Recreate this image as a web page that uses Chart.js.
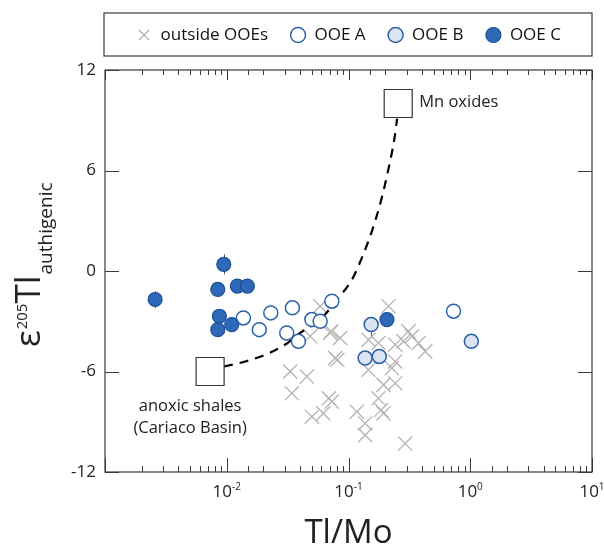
<!DOCTYPE html>
<html>
<head>
<meta charset="utf-8">
<script src="https://cdn.jsdelivr.net/npm/chart.js@4.4.1/dist/chart.umd.min.js"></script>
<style>
  html, body { margin: 0; padding: 0; background: #fff; }
</style>
</head>
<body>
<canvas id="tlChart" width="604" height="547"></canvas>
<script>
// samples outside the OOEs (grey crosses)
const outsideX = [0.0585, 0.0484, 0.0707, 0.072, 0.0854, 0.0777, 0.081, 0.0332, 0.0455, 0.0342, 0.073, 0.069, 0.0622, 0.05,
  0.117, 0.137, 0.137, 0.213, 0.146, 0.176, 0.242, 0.283, 0.311, 0.332, 0.376, 0.427, 0.146, 0.242, 0.227, 0.194, 0.242,
  0.176, 0.194, 0.185, 0.292];
const outsideY = [-2.1, -3.9, -3.7, -3.6, -4.0, -5.2, -5.3, -6.0, -6.3, -7.3, -7.8, -7.6, -8.5, -8.7,
  -8.4, -9.1, -9.8, -2.1, -4.1, -4.3, -4.4, -4.2, -3.6, -3.9, -4.3, -4.8, -5.9, -5.4, -5.8, -6.8, -6.7,
  -7.6, -8.5, -8.3, -10.3];

const ooeAX = [0.0137, 0.0185, 0.023, 0.0346, 0.0311, 0.0388, 0.05, 0.0585, 0.073, 0.729];
const ooeAY = [-2.8, -3.5, -2.5, -2.2, -3.7, -4.2, -2.9, -3.0, -1.8, -2.4];

const ooeBX = [0.1535, 0.137, 0.179, 1.02];
const ooeBY = [-3.2, -5.2, -5.1, -4.2];
const ooeBErr = [[0.8, 0], null, null, null];

const ooeCX = [0.00258, 0.00945, 0.00844, 0.01223, 0.01477, 0.0087, 0.00844, 0.011, 0.207];
const ooeCY = [-1.7, 0.4, -1.1, -0.9, -0.9, -2.7, -3.5, -3.2, -2.9];
const ooeCErr = [[0.5, 0.5], [0.6, 0.6], null, null, null, null, null, null, null];

// end members and the mixing line between them
const endX = [0.0073, 0.256];
const endY = [-6, 10];
const endLabels = [['anoxic shales', '(Cariaco Basin)'], ['Mn oxides']];

const mixX = [0.0095, 0.0142, 0.0207, 0.0301, 0.0401, 0.0585, 0.0807, 0.107, 0.129, 0.156, 0.185, 0.216, 0.237, 0.251];
const mixY = [-5.7, -5.4, -5.0, -4.4, -3.7, -2.9, -1.7, -0.5, 0.8, 2.4, 4.2, 6.3, 7.8, 9.1];

const xTickValues = [0.01, 0.1, 1, 10];
const xTickExps = ['-2', '-1', '0', '1'];
const yTickValues = [-12, -6, 0, 6, 12];

const FONT = "'Open Sans', 'DejaVu Sans', sans-serif";
const INK = '#222';
const AXIS = '#3a3a3a';

function pts(xs, ys) {
    return xs.map((x, i) => ({ x: x, y: ys[i] }));
}

function isDecade(v) {
    const e = Math.log10(v);
    return Math.abs(e - Math.round(e)) < 1e-6;
}

const errorBars = {
    id: 'errorBars',
    beforeDatasetsDraw(chart) {
        const { ctx, scales: { x, y } } = chart;
        ctx.save();
        ctx.strokeStyle = '#555';
        ctx.lineWidth = 1;
        chart.data.datasets.forEach(ds => {
            if (!ds.yErr) return;
            ds.data.forEach((p, i) => {
                const e = ds.yErr[i];
                if (!e) return;
                const px = Math.round(x.getPixelForValue(p.x)) + 0.5;
                ctx.beginPath();
                ctx.moveTo(px, y.getPixelForValue(p.y - e[0]));
                ctx.lineTo(px, y.getPixelForValue(p.y + e[1]));
                ctx.stroke();
            });
        });
        ctx.restore();
    }
};

const frameAndLabels = {
    id: 'frameAndLabels',
    afterDraw(chart) {
        const { ctx, chartArea: a, scales: { x, y } } = chart;
        ctx.save();

        // plot frame + inward ticks
        ctx.strokeStyle = AXIS;
        ctx.lineWidth = 1.2;
        ctx.strokeRect(a.left, a.top, a.right - a.left, a.bottom - a.top);
        ctx.lineWidth = 1;
        ctx.beginPath();
        x.ticks.forEach(t => {
            const px = Math.round(x.getPixelForValue(t.value)) + 0.5;
            const major = isDecade(t.value);
            ctx.moveTo(px, a.bottom);
            ctx.lineTo(px, a.bottom - (major ? 14 : 6));
            ctx.moveTo(px, a.top);
            ctx.lineTo(px, a.top + (major ? 10 : 5));
        });
        y.ticks.forEach(t => {
            const py = Math.round(y.getPixelForValue(t.value)) + 0.5;
            ctx.moveTo(a.left, py);
            ctx.lineTo(a.left + 14, py);
            ctx.moveTo(a.right, py);
            ctx.lineTo(a.right - 14, py);
        });
        ctx.stroke();

        // x tick labels 10^n
        ctx.fillStyle = INK;
        ctx.textBaseline = 'alphabetic';
        ctx.textAlign = 'left';
        xTickValues.forEach((v, i) => {
            const px = x.getPixelForValue(v);
            ctx.font = '17px ' + FONT;
            const wBase = ctx.measureText('10').width;
            ctx.font = '10px ' + FONT;
            const wExp = ctx.measureText(xTickExps[i]).width;
            const left = px - (wBase + wExp) / 2;
            ctx.font = '17px ' + FONT;
            ctx.fillText('10', left, a.bottom + 25);
            ctx.font = '10px ' + FONT;
            ctx.fillText(xTickExps[i], left + wBase, a.bottom + 18);
        });

        // y axis title
        ctx.translate(40, 347);
        ctx.rotate(-Math.PI / 2);
        let cx = 0;
        ctx.font = '35px ' + FONT;
        ctx.fillText('\u03b5', cx, 0);
        cx += ctx.measureText('\u03b5').width + 1;
        ctx.font = '15px ' + FONT;
        ctx.fillText('205', cx, -13);
        cx += ctx.measureText('205').width;
        ctx.font = '35px ' + FONT;
        ctx.fillText('Tl', cx, 0);
        cx += ctx.measureText('Tl').width + 1;
        ctx.font = '19px ' + FONT;
        ctx.fillText('authigenic', cx, 12);
        ctx.restore();

        // legend frame
        const lg = chart.legend;
        ctx.save();
        ctx.strokeStyle = AXIS;
        ctx.lineWidth = 1.2;
        ctx.strokeRect(lg.left - 1, lg.top + 8.5, lg.width + 1, 43);
        ctx.restore();
    },
    afterDatasetsDraw(chart) {
        const { ctx, scales: { x, y } } = chart;
        ctx.save();
        ctx.fillStyle = INK;
        ctx.font = '16.5px ' + FONT;
        ctx.textBaseline = 'middle';
        // anoxic shales: centred below-left of the square
        const ax = x.getPixelForValue(endX[0]);
        const ay = y.getPixelForValue(endY[0]);
        ctx.textAlign = 'center';
        endLabels[0].forEach((s, i) => ctx.fillText(s, ax - 20, ay + 35 + i * 22));
        // Mn oxides: right of the square
        const mx = x.getPixelForValue(endX[1]);
        const my = y.getPixelForValue(endY[1]);
        ctx.textAlign = 'left';
        ctx.fillText(endLabels[1][0], mx + 21, my - 1);
        ctx.restore();
    }
};

Chart.defaults.font.family = FONT;
Chart.defaults.color = INK;

new Chart(document.getElementById('tlChart'), {
    type: 'scatter',
    data: {
        datasets: [
            {
                label: 'outside OOEs',
                data: pts(outsideX, outsideY),
                pointStyle: 'crossRot',
                pointRadius: 10,
                borderColor: '#b3b3b3',
                backgroundColor: '#b3b3b3',
                borderWidth: 1.3,
                order: 5
            },
            {
                label: 'OOE A',
                data: pts(ooeAX, ooeAY),
                pointStyle: 'circle',
                pointRadius: 7,
                borderColor: '#2c63ad',
                backgroundColor: '#ffffff',
                borderWidth: 1.5,
                order: 2
            },
            {
                label: 'OOE B',
                data: pts(ooeBX, ooeBY),
                yErr: ooeBErr,
                pointStyle: 'circle',
                pointRadius: 7,
                borderColor: '#2c5fa8',
                backgroundColor: '#dce3f3',
                borderWidth: 1.5,
                order: 1
            },
            {
                label: 'OOE C',
                data: pts(ooeCX, ooeCY),
                yErr: ooeCErr,
                pointStyle: 'circle',
                pointRadius: 7,
                borderColor: '#1d4f96',
                backgroundColor: '#2e68b9',
                borderWidth: 1.2,
                order: 0
            },
            {
                label: 'end members',
                data: pts(endX, endY),
                pointStyle: 'rect',
                pointRadius: 19.8,
                borderColor: '#333',
                backgroundColor: '#ffffff',
                borderWidth: 1.2,
                order: 3
            },
            {
                label: 'mixing',
                data: pts(mixX, mixY),
                showLine: true,
                pointRadius: 0,
                borderColor: '#000',
                borderWidth: 2.2,
                borderDash: [9, 7],
                cubicInterpolationMode: 'monotone',
                order: 4
            }
        ]
    },
    options: {
        responsive: false,
        animation: false,
        events: [],
        layout: { autoPadding: false, padding: { top: 4.5, right: 12, left: 0, bottom: 0 } },
        plugins: {
            legend: {
                position: 'top',
                fullSize: false,
                labels: {
                    usePointStyle: true,
                    boxWidth: 16,
                    boxHeight: 10.6,
                    padding: 22,
                    color: '#111',
                    font: { size: 17 },
                    filter: item => item.datasetIndex < 4,
                    sort: (a, b) => a.datasetIndex - b.datasetIndex
                }
            },
            tooltip: { enabled: false }
        },
        scales: {
            x: {
                type: 'logarithmic',
                position: 'bottom',
                min: 0.001,
                max: 10,
                grid: { display: false, drawTicks: false },
                border: { display: false },
                ticks: { display: false, autoSkip: false },
                title: {
                    display: true,
                    text: 'Tl/Mo',
                    color: INK,
                    font: { size: 33, lineHeight: 0.8 },
                    padding: { top: 0, bottom: 0 }
                },
                afterFit: s => { s.height = 75; }
            },
            xTop: {
                type: 'logarithmic',
                position: 'top',
                min: 0.001,
                max: 10,
                grid: { display: false, drawTicks: false },
                border: { display: false },
                ticks: { display: false },
                afterFit: s => { s.height = 16.5; }
            },
            y: {
                min: -12,
                max: 12,
                grid: { display: false, drawTicks: false },
                border: { display: false },
                afterBuildTicks: s => { s.ticks = yTickValues.map(v => ({ value: v })); },
                ticks: { padding: 9, color: INK, font: { size: 17 } },
                afterFit: s => { s.width = 105; }
            }
        }
    },
    plugins: [errorBars, frameAndLabels]
});
</script>
</body>
</html>
